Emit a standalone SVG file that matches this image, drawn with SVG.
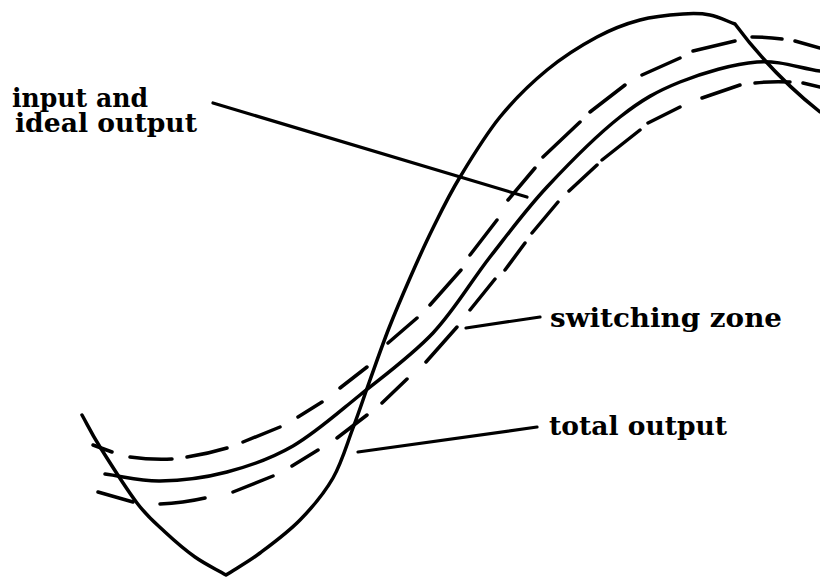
<svg xmlns="http://www.w3.org/2000/svg" width="820" height="577" viewBox="0 0 820 577">
<style>
.curve{fill:none;stroke:#000;stroke-width:3.5;stroke-linecap:round;stroke-linejoin:round}
.dash{fill:none;stroke:#000;stroke-width:3.5;stroke-linecap:round}
.leader{fill:none;stroke:#000;stroke-width:3.2;stroke-linecap:round}
.lbl{font-family:"DejaVu Serif","Liberation Serif",serif;font-weight:bold;font-size:26px;fill:#000}
</style>
<rect width="820" height="577" fill="#fff"/>
<g id="total-output-curve">
<path class="curve" d="M82,415 C88,425.7 90.8,432.3 100,447 C109.2,461.7 126.2,488.8 137,503 C147.8,517.2 155.3,523 165,532 C174.7,541 184.8,549.8 195,557 C205.2,564.2 215.7,569 226,575 C237.3,567.7 247.7,562.2 260,553 C272.3,543.8 287.8,532.5 300,520 C312.2,507.5 324.2,493.3 333,478 C341.8,462.7 346.8,444.3 353,428 C359.2,411.7 364,396.7 370,380 C376,363.3 382.3,345 389,328 C395.7,311 402.7,294.7 410,278 C417.3,261.3 424.7,244.8 433,228 C441.3,211.2 448.8,195.5 460,177 C471.2,158.5 485.5,134.8 500,117 C514.5,99.2 530.8,83.3 547,70 C563.2,56.7 581.5,45.3 597,37 C612.5,28.7 625.7,23.8 640,20 C654.3,16.2 671.3,14.8 683,14 C694.7,13.2 701.3,13.3 710,15 C718.7,16.7 726.7,21 735,24 Q772,74 820,112"/>
</g>
<g id="ideal-output-curve">
<path class="curve" d="M105,474 C123.3,476.3 139.7,481.3 160,481 C180.3,480.7 204.8,477.8 227,472 C249.2,466.2 270.8,458.8 293,446 C315.2,433.2 336.7,413.8 360,395 C383.3,376.2 411.3,356 433,333 C454.7,310 471,281.3 490,257 C509,232.7 525.3,210.3 547,187 C568.7,163.7 597.8,134.5 620,117 C642.2,99.5 657.2,91.2 680,82 C702.8,72.8 733.7,63.8 757,62 C780.3,60.2 799,68 820,71"/>
</g>
<g id="switching-zone-upper">
<path class="dash" d="M93,445 L112,452 M130,457 Q151,460 172,459 M187,457 Q207,454 227,448 M243,442 L280,427 M298,417 L322,402 M340,388 L367,367 M388,343 L417,318 M430,305 L461,270 M470,255 L497,220 M508,200 L535,168 M543,157 L580,122 M590,112 L625,85 M642,75 L680,58 M693,51 L735,41 M752,37 Q767,37 782,39 M795,41 L820,48"/>
</g>
<g id="switching-zone-lower">
<path class="dash" d="M98,492 L133,502 M160,504 Q183,503 205,498 M233,492 L273,476 M292,466 L318,450 M337,438 L367,415 M382,403 L407,379 M426,362 L457,327 M470,310 L495,279 M505,270 L525,243 M532,233 L558,202 M569,191 L597,165 M602,160 L640,130 M648,123 L680,107 M702,98 L740,85 M755,83 Q772,81 790,82 M803,83 L820,87"/>
</g>
<g id="connectors">
<line class="leader" x1="213" y1="103" x2="527" y2="197"/>
<line class="leader" x1="466" y1="328" x2="540" y2="317"/>
<line class="leader" x1="358" y1="452" x2="537" y2="427"/>
</g>
<g id="label-input">
<text class="lbl" x="12" y="107" textLength="136" lengthAdjust="spacingAndGlyphs">input and</text>
<text class="lbl" x="15" y="132" textLength="182" lengthAdjust="spacingAndGlyphs">ideal output</text>
</g>
<g id="label-switching">
<text class="lbl" x="550" y="327" textLength="232" lengthAdjust="spacingAndGlyphs">switching zone</text>
</g>
<g id="label-total">
<text class="lbl" x="549" y="435" textLength="178" lengthAdjust="spacingAndGlyphs">total output</text>
</g>
</svg>
